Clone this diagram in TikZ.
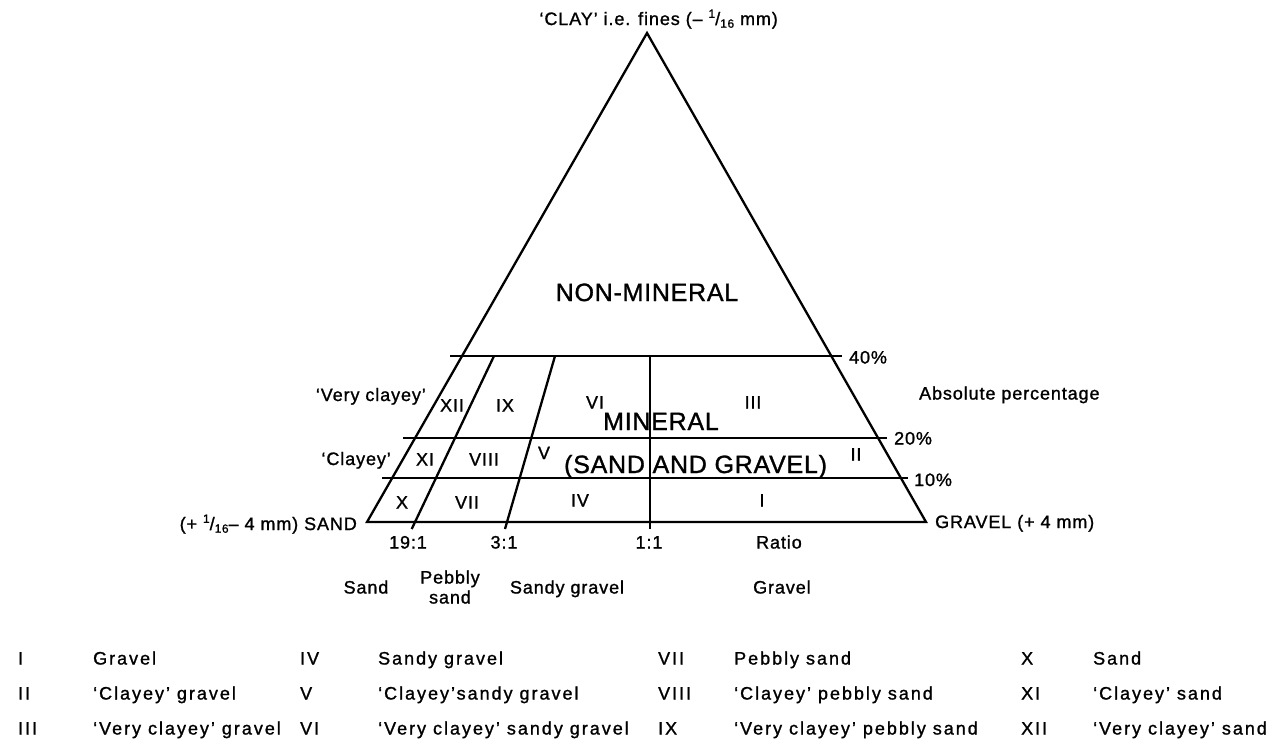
\documentclass[tikz,border=0pt]{standalone}
\usepackage{fontspec}
\setmainfont{Liberation Sans}
\newfontfamily\labfont[LetterSpace=5,FakeBold=1.2]{Liberation Sans}
\newfontfamily\legfont[LetterSpace=11,FakeBold=1.2]{Liberation Sans}
\newfontfamily\bigfont[LetterSpace=3,FakeBold=1.2]{Liberation Sans}
\newcommand\frsixteen{\raisebox{0.4em}{\fontsize{12}{12}\selectfont 1}/\raisebox{-0.15em}{\fontsize{12}{12}\selectfont 16}}
\begin{document}
\begin{tikzpicture}[x=1pt,y=-1pt,line width=2.3pt,
  lab/.style={font=\labfont\fontsize{18}{20}\selectfont,inner sep=0pt},
  leg/.style={font=\legfont\fontsize{18}{20}\selectfont,inner sep=0pt,anchor=base west},
  big/.style={font=\bigfont\fontsize{25}{28}\selectfont,inner sep=0pt}]
\useasboundingbox (0,0) rectangle (1283,748);
% triangle
\coordinate (A) at (647,33);
\coordinate (L) at (367,522);
\coordinate (R) at (926,522);
\draw[line join=miter] (L) -- (A) -- (R) -- cycle;
% absolute percentage lines
\coordinate (h40a) at (450,356); \coordinate (h40b) at (842,356);
\coordinate (h20a) at (403,438); \coordinate (h20b) at (887,438);
\coordinate (h10a) at (382,478); \coordinate (h10b) at (908,478);
\draw (h40a) -- (h40b);
\draw (h20a) -- (h20b);
\draw (h10a) -- (h10b);
% ratio lines
\coordinate (r19b) at (411.7,529); \coordinate (r19t) at (494,356);
\coordinate (r3b) at (505,529); \coordinate (r3t) at (555,356);
\coordinate (r1b) at (650,529); \coordinate (r1t) at (650,356);
\draw (r19b) -- (r19t);
\draw (r3b) -- (r3t);
\draw (r1b) -- (r1t);
% apex label
\node[lab,anchor=base east] (clay) at (779,25) {‘CLAY’ i.e. fines (– \frsixteen\ mm)};
\node[big,anchor=base] (nonmin) at (647,301) {NON-MINERAL};
% region labels
\node[lab,anchor=base] (nXII) at (452,411.5) {XII};
\node[lab,anchor=base] (nIX) at (505,411.5) {IX};
\node[lab,anchor=base] (nVI) at (595,408.5) {VI};
\node[lab,anchor=base] (nIII) at (753,408.5) {III};
\node[big,anchor=base west] (mineral) at (602,430) {MINERAL};
\node[lab,anchor=base] (nXI) at (425,465.5) {XI};
\node[lab,anchor=base] (nVIII) at (484,465.5) {VIII};
\node[lab,anchor=base] (nV) at (544,459) {V};
\node[big,anchor=base west] (sandgravel) at (563,473) {(SAND AND GRAVEL)};
\node[lab,anchor=base] (nII) at (856,460.5) {II};
\node[lab,anchor=base] (nX) at (402,508.5) {X};
\node[lab,anchor=base] (nVII) at (467,508.5) {VII};
\node[lab,anchor=base] (nIV) at (580,506.5) {IV};
\node[lab,anchor=base] (nI) at (762,506.5) {I};
% right side
\node[lab,anchor=base west] (p40) at (848,363.5) {40\%};
\node[lab,anchor=base west] (abs) at (918,399.5) {Absolute percentage};
\node[lab,anchor=base west] (p20) at (893,444.5) {20\%};
\node[lab,anchor=base west] (p10) at (913,486) {10\%};
\node[lab,anchor=base west] (gravel) at (934,528) {GRAVEL (+ 4 mm)};
% left side
\node[lab,anchor=base east] (vclayey) at (427,401) {‘Very clayey’};
\node[lab,anchor=base east] (clayey) at (392,465) {‘Clayey’};
\node[lab,anchor=base east] (sand) at (358,530) {(+ \frsixteen– 4 mm) SAND};
% ratios
\node[lab,anchor=base] (q19) at (408,548.5) {19:1};
\node[lab,anchor=base] (q3) at (504,548.5) {3:1};
\node[lab,anchor=base] (q1) at (649,548.5) {1:1};
\node[lab,anchor=base west] (ratio) at (755,548.5) {Ratio};
% classes
\node[lab,anchor=base] (cSand) at (366,593.5) {Sand};
\node[lab,anchor=base] (cPeb1) at (450,583.5) {Pebbly};
\node[lab,anchor=base] (cPeb2) at (450,603.5) {sand};
\node[lab,anchor=base] (cSG) at (567,593.5) {Sandy gravel};
\node[lab,anchor=base west] (cG) at (752,593.5) {Gravel};
% legend
\node[leg] (l1n) at (17,664.5) {I};
\node[leg] (l1t) at (92,664.5) {Gravel};
\node[leg] (l2n) at (17,699.5) {II};
\node[leg] (l2t) at (92,699.5) {‘Clayey’ gravel};
\node[leg] (l3n) at (17,734.5) {III};
\node[leg] (l3t) at (92,734.5) {‘Very clayey’ gravel};
\node[leg] (l4n) at (299,664.5) {IV};
\node[leg] (l4t) at (377,664.5) {Sandy gravel};
\node[leg] (l5n) at (299,699.5) {V};
\node[leg] (l5t) at (377,699.5) {‘Clayey’sandy gravel};
\node[leg] (l6n) at (299,734.5) {VI};
\node[leg] (l6t) at (377,734.5) {‘Very clayey’ sandy gravel};
\node[leg] (l7n) at (657,664.5) {VII};
\node[leg] (l7t) at (733,664.5) {Pebbly sand};
\node[leg] (l8n) at (657,699.5) {VIII};
\node[leg] (l8t) at (733,699.5) {‘Clayey’ pebbly sand};
\node[leg] (l9n) at (657,734.5) {IX};
\node[leg] (l9t) at (733,734.5) {‘Very clayey’ pebbly sand};
\node[leg] (l10n) at (1020,664.5) {X};
\node[leg] (l10t) at (1092,664.5) {Sand};
\node[leg] (l11n) at (1020,699.5) {XI};
\node[leg] (l11t) at (1092,699.5) {‘Clayey’ sand};
\node[leg] (l12n) at (1020,734.5) {XII};
\node[leg] (l12t) at (1092,734.5) {‘Very clayey’ sand};
\end{tikzpicture}
\end{document}
